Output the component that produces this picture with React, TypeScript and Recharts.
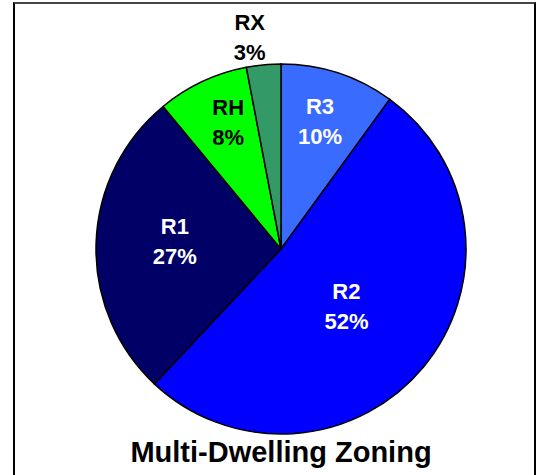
import React from "react";
import { PieChart, Pie, Cell } from "recharts";

const zones = ["R3", "R2", "R1", "RH", "RX"];
const shares = [10, 52, 27, 8, 3];
const colors = ["#3a6bff", "#0000ff", "#000066", "#00ff00", "#339966"];
const labelColors = ["#ffffff", "#ffffff", "#ffffff", "#000000", "#000000"];

const data = zones.map((z, i) => ({ name: z, value: shares[i] }));

// label placement, like Excel's best fit: radius as fraction of outer, angle nudge (deg, clockwise)
const LABEL_LAYOUT: Record<string, { r: number; dA: number }> = {
  R3: { r: 0.72, dA: -1 },
  R2: { r: 0.47, dA: 1.6 },
  R1: { r: 0.575, dA: 2.2 },
  RH: { r: 0.74, dA: 2.5 },
  RX: { r: 1.157, dA: -3 },
};

const RAD = Math.PI / 180;

const PieLabel = (props: any) => {
  const { cx, cy, midAngle, outerRadius, index } = props;
  const name = zones[index];
  const lay = LABEL_LAYOUT[name];
  const a = (midAngle - lay.dA) * RAD;
  const r = outerRadius * lay.r;
  const x = cx + r * Math.cos(a);
  const y = cy - r * Math.sin(a);
  return (
    <text
      x={x}
      y={y}
      fill={labelColors[index]}
      textAnchor="middle"
      fontFamily="'Liberation Sans', Arial, sans-serif"
      fontWeight="bold"
      fontSize={22}
    >
      <tspan x={x} y={y - 15} dominantBaseline="central">{name}</tspan>
      <tspan x={x} y={y + 15} dominantBaseline="central">{shares[index]}%</tspan>
    </text>
  );
};

export default function App() {
  return (
    <div style={{ position: "absolute", left: 0, top: 0, width: 540, height: 475, background: "#fff", overflow: "hidden" }}>
      <div
        style={{
          position: "absolute", left: 13, top: 2, width: 523, height: 490,
          boxSizing: "border-box",
          borderLeft: "2px solid #000", borderRight: "2px solid #000", borderTop: "2px solid #444",
        }}
      />
      <PieChart
        width={540}
        height={475}
        margin={{ top: 0, right: 0, bottom: 0, left: 0 }}
        style={{ position: "absolute", left: 0, top: 0 }}
      >
        <Pie
          data={data}
          dataKey="value"
          nameKey="name"
          cx={281}
          cy={249}
          outerRadius={185}
          startAngle={90}
          endAngle={-270}
          stroke="#000"
          strokeWidth={1.5}
          label={PieLabel}
          labelLine={false}
          isAnimationActive={false}
        >
          {data.map((d, i) => (
            <Cell key={d.name} fill={colors[i]} />
          ))}
        </Pie>
      </PieChart>
      <div
        style={{
          position: "absolute", left: 11, top: 438, width: 540, textAlign: "center",
          fontFamily: "'Liberation Sans', Arial, sans-serif", fontWeight: "bold", fontSize: 29, lineHeight: "29px", color: "#000",
        }}
      >
        Multi-Dwelling Zoning
      </div>
    </div>
  );
}
